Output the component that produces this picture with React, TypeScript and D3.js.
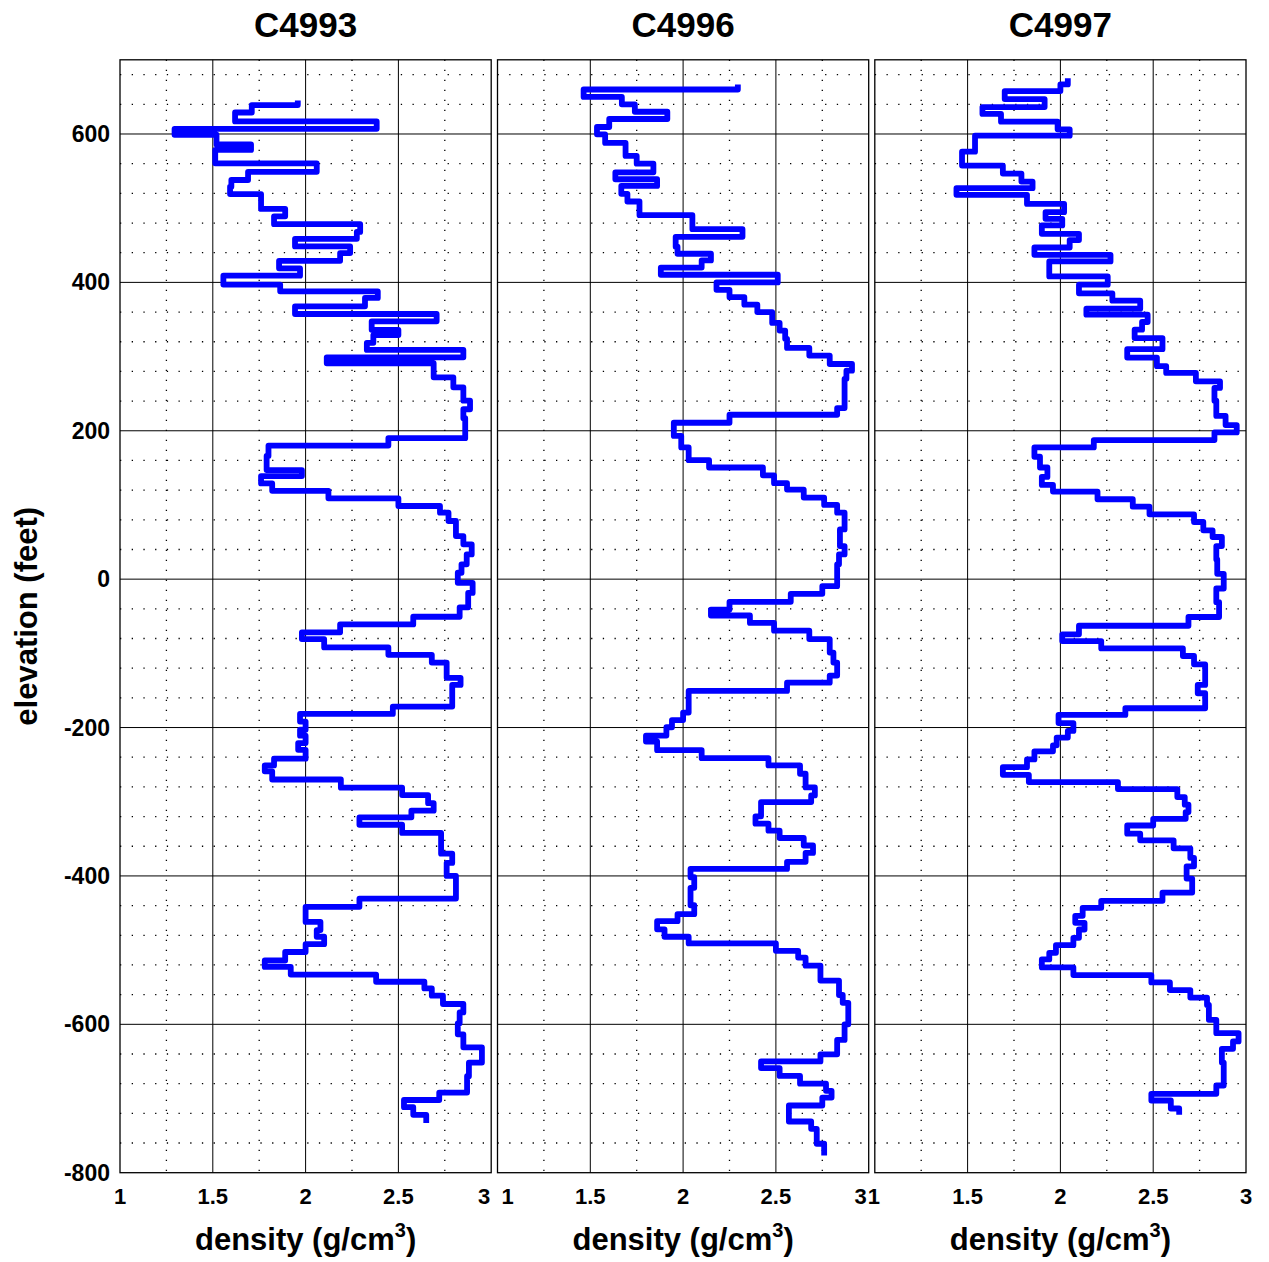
import React from "react";
import * as d3 from "d3";

const wells = ["C4993", "C4996", "C4997"];

// layer boundaries (elevation, feet): top, then the base of each layer
const c4993Elev = [645, 639, 629, 617, 607, 599, 586, 578.5, 560.5, 549, 538, 529, 519, 499, 489, 478.5, 468, 458.7, 448.4, 439.5, 429, 419, 409, 397, 388, 379, 367.7, 357.4, 347.5, 336, 329, 318.5, 309, 299, 291, 272, 258.5, 240.5, 229, 217, 190, 180, 166, 147, 139, 129, 119, 109, 98.6, 89.6, 78.4, 58, 47, 33.3, 20, 8.6, -5, -18.5, -38, -50.7, -61, -71.7, -80.7, -92, -102, -112.5, -133, -142.6, -171.7, -181.6, -192, -203, -211, -221, -230, -242, -251, -259, -270, -281, -291, -302, -312, -321, -331, -342, -370, -382.5, -400, -430.5, -441.7, -462, -473, -482, -492, -502.5, -514, -522.6, -533, -542.6, -551.6, -561.4, -572.6, -584, -598.7, -613.5, -631, -651.6, -670, -692, -702, -711.7, -722, -733];
// density (g/cm3) of each layer
const c4993Dens = [1.958, 1.71, 1.62, 2.383, 1.294, 1.52, 1.706, 1.513, 2.06, 1.69, 1.6, 1.593, 1.76, 1.89, 1.83, 2.294, 2.276, 1.943, 2.24, 2.186, 1.857, 1.97, 1.557, 1.863, 2.389, 2.32, 1.943, 2.706, 2.356, 2.5, 2.365, 2.33, 2.85, 2.114, 2.69, 2.796, 2.85, 2.886, 2.85, 2.86, 2.446, 1.8, 1.79, 1.98, 1.76, 1.82, 2.123, 2.5, 2.724, 2.77, 2.81, 2.85, 2.895, 2.868, 2.84, 2.82, 2.9, 2.876, 2.83, 2.58, 2.186, 1.98, 2.1, 2.446, 2.68, 2.76, 2.835, 2.79, 2.47, 1.97, 2.0, 1.97, 2.0, 1.96, 2.0, 1.83, 1.78, 1.82, 2.19, 2.52, 2.66, 2.69, 2.57, 2.29, 2.52, 2.73, 2.79, 2.76, 2.81, 2.29, 2.0, 2.08, 2.06, 2.1, 2.0, 1.89, 1.78, 1.92, 2.38, 2.64, 2.68, 2.74, 2.85, 2.83, 2.82, 2.85, 2.95, 2.88, 2.87, 2.72, 2.53, 2.58, 2.65];

const c4996Elev = [666.8, 660, 650, 640, 630, 620.2, 609.4, 599.6, 588, 570.4, 560, 548.4, 539, 530, 519.3, 509, 490.6, 471.7, 461.4, 448, 438.6, 429.6, 420, 410.3, 400, 390, 380, 370, 360, 345.3, 335, 323.9, 311.7, 301.4, 290, 281, 270, 230.6, 221.6, 210.8, 193, 177.5, 160.4, 150.5, 140, 129.3, 120.7, 110, 100, 89.6, 67, 44.6, 33.3, 20, -9.5, -19.8, -30.6, -41, -49, -59, -69.5, -80.7, -99, -112.5, -130, -139.5, -150.7, -179.8, -190, -199.6, -210.8, -218.8, -230.5, -241.3, -251, -262.3, -280.7, -291.5, -300.4, -319.7, -329.6, -339, -348.9, -359, -369, -381, -390.6, -401.8, -416, -439.5, -451.6, -461, -472, -482, -491, -501, -510, -521, -541, -560.5, -571, -600, -621, -640.4, -650, -659, -669.5, -680, -689.7, -698.7, -709.4, -731, -740.8, -761, -776.7];
const c4996Dens = [2.295, 1.464, 1.67, 1.74, 1.915, 1.602, 1.536, 1.58, 1.69, 1.75, 1.84, 1.635, 1.86, 1.667, 1.7, 1.765, 2.05, 2.32, 1.96, 1.97, 2.15, 2.1, 1.88, 2.51, 2.18, 2.25, 2.33, 2.4, 2.48, 2.52, 2.55, 2.56, 2.68, 2.79, 2.91, 2.88, 2.87, 2.83, 2.25, 1.95, 1.99, 2.03, 2.14, 2.43, 2.49, 2.56, 2.65, 2.76, 2.83, 2.87, 2.845, 2.87, 2.84, 2.83, 2.75, 2.58, 2.25, 2.15, 2.36, 2.49, 2.68, 2.79, 2.81, 2.83, 2.79, 2.56, 2.03, 2.0, 1.94, 1.91, 1.8, 1.86, 2.1, 2.46, 2.63, 2.66, 2.71, 2.69, 2.42, 2.39, 2.46, 2.52, 2.65, 2.7, 2.66, 2.56, 2.04, 2.06, 2.04, 2.06, 1.97, 1.86, 1.9, 2.03, 2.5, 2.62, 2.66, 2.74, 2.84, 2.86, 2.89, 2.87, 2.83, 2.74, 2.42, 2.52, 2.63, 2.77, 2.8, 2.75, 2.57, 2.69, 2.72, 2.76];

const c4997Elev = [675, 666.8, 657.8, 647, 636.3, 627, 616.6, 606.3, 597.8, 576.2, 557.4, 546.6, 535.9, 527, 518, 505.8, 494.6, 485.6, 476.7, 465.5, 457, 447, 437.2, 428.3, 408, 396.9, 385.2, 375.3, 364.6, 356.5, 346.6, 336.3, 325, 310, 298.6, 287, 278, 266.7, 257.7, 240.5, 220, 207.7, 197.7, 187.4, 177.5, 165, 150.5, 137.8, 127, 118, 107.7, 97.7, 87.4, 77, 65.8, 56.8, 44.6, 26.6, 7.2, -12.6, -31, -51, -62.8, -74.4, -83.4, -93.3, -103.6, -114.8, -142.6, -153.8, -174, -183, -194, -204.5, -213.5, -224, -232, -243, -253.4, -263.7, -273.5, -283, -293.7, -304, -314, -323, -332, -343, -352, -362.8, -375.8, -387, -403.6, -422.5, -433.6, -443, -453.8, -463.2, -472.2, -483.4, -493.3, -503.6, -512.6, -523.3, -533.6, -543.5, -553.8, -564, -574, -594, -612, -623, -633, -651.6, -682.5, -693.7, -702.7, -713.5, -722];
const c4997Dens = [2.04, 2.0, 1.7, 1.915, 1.58, 1.68, 1.985, 2.05, 1.54, 1.47, 1.69, 1.79, 1.85, 1.44, 1.82, 2.02, 1.92, 2.01, 1.9, 2.1, 2.05, 1.86, 2.27, 1.94, 2.255, 2.1, 2.28, 2.43, 2.14, 2.47, 2.44, 2.4, 2.55, 2.36, 2.52, 2.57, 2.73, 2.86, 2.83, 2.84, 2.89, 2.95, 2.83, 2.18, 1.86, 1.89, 1.93, 1.9, 1.96, 2.2, 2.39, 2.48, 2.72, 2.77, 2.82, 2.87, 2.84, 2.845, 2.88, 2.84, 2.855, 2.69, 2.1, 2.01, 2.22, 2.66, 2.72, 2.78, 2.74, 2.78, 2.35, 1.99, 2.07, 2.04, 1.98, 1.96, 1.86, 1.82, 1.69, 1.83, 2.31, 2.63, 2.67, 2.69, 2.675, 2.5, 2.36, 2.43, 2.61, 2.7, 2.72, 2.68, 2.71, 2.55, 2.22, 2.12, 2.08, 2.13, 2.1, 2.07, 1.976, 1.94, 1.9, 2.07, 2.49, 2.59, 2.7, 2.79, 2.8, 2.84, 2.96, 2.93, 2.87, 2.88, 2.84, 2.49, 2.595, 2.64];

const elevTicks = [600, 400, 200, 0, -200, -400, -600, -800];
const densTicks = [1, 1.5, 2, 2.5, 3];
const majorDens = [1.5, 2, 2.5];
const minorDens = [1.25, 1.75, 2.25, 2.75];

const W = 1269;
const H = 1262;
const TOP = 59.8;
const BOTTOM = 1172.7;
const PANEL_W = 371.2;
const PANEL_LEFT = [120, 497.5, 874.8];
const FONT = "'Liberation Sans', Arial, Helvetica, sans-serif";

const series = [
  { elev: c4993Elev, dens: c4993Dens },
  { elev: c4996Elev, dens: c4996Dens },
  { elev: c4997Elev, dens: c4997Dens },
];

// end ticks of adjacent panels are nudged apart so they do not collide
function tickAnchor(panel: number, d: number): { anchor: string; dx: number } {
  if (d === 3 && panel < 2) return { anchor: "end", dx: panel === 0 ? -1 : -2 };
  if (d === 1 && panel === 1) return { anchor: "start", dx: 4 };
  if (d === 1 && panel === 2) return { anchor: "start", dx: -7 };
  return { anchor: "middle", dx: 0 };
}

export default function App() {
  const y = d3.scaleLinear().domain([700, -800]).range([TOP, BOTTOM]);
  const majorElev = d3.range(-600, 601, 200);
  const minorElev = d3.range(-760, 700, 40).filter((e) => e % 200 !== 0);

  return (
    <svg
      width={W}
      height={H}
      style={{ position: "absolute", left: 0, top: 0, background: "#fff" }}
      fontFamily={FONT}
    >
      <rect x={0} y={0} width={W} height={H} fill="#fff" />
      {series.map((s, i) => {
        const left = PANEL_LEFT[i];
        const x = d3.scaleLinear().domain([1, 3]).range([left, left + PANEL_W]);
        const pts: [number, number][] = s.dens.map((d, k) => [d, s.elev[k]]);
        pts.push([s.dens[s.dens.length - 1], s.elev[s.elev.length - 1]]);
        const line = d3
          .line<[number, number]>()
          .x((p) => x(p[0]))
          .y((p) => y(p[1]))
          .curve(d3.curveStepBefore);
        const cx = left + PANEL_W / 2;
        return (
          <g key={wells[i]}>
            {minorElev.map((e) => (
              <line
                key={"mh" + e}
                x1={left}
                x2={left + PANEL_W}
                y1={y(e)}
                y2={y(e)}
                stroke="#000"
                strokeWidth={1.3}
                strokeDasharray="1.3 10.4"
              />
            ))}
            {minorDens.map((d) => (
              <line
                key={"mv" + d}
                x1={x(d)}
                x2={x(d)}
                y1={TOP}
                y2={BOTTOM}
                stroke="#000"
                strokeWidth={1.3}
                strokeDasharray="1.3 8.7"
              />
            ))}
            {majorElev.map((e) => (
              <line
                key={"h" + e}
                x1={left}
                x2={left + PANEL_W}
                y1={y(e)}
                y2={y(e)}
                stroke="#000"
                strokeWidth={1}
              />
            ))}
            {majorDens.map((d) => (
              <line
                key={"v" + d}
                x1={x(d)}
                x2={x(d)}
                y1={TOP}
                y2={BOTTOM}
                stroke="#000"
                strokeWidth={1}
              />
            ))}
            <rect
              x={left}
              y={TOP}
              width={PANEL_W}
              height={BOTTOM - TOP}
              fill="none"
              stroke="#000"
              strokeWidth={1.3}
            />
            <path
              d={line(pts) || ""}
              fill="none"
              stroke="#0000ff"
              strokeWidth={5.8}
              strokeLinejoin="round"
              strokeLinecap="butt"
            />
            <text
              x={cx}
              y={37}
              textAnchor="middle"
              fontSize={35}
              fontWeight="bold"
            >
              {wells[i]}
            </text>
            {densTicks.map((d) => {
              const a = tickAnchor(i, d);
              return (
                <text
                  key={"xt" + d}
                  x={x(d) + a.dx}
                  y={1204}
                  textAnchor={a.anchor}
                  fontSize={22}
                  fontWeight="bold"
                >
                  {String(d)}
                </text>
              );
            })}
            <text
              x={cx}
              y={1250}
              textAnchor="middle"
              fontSize={31}
              fontWeight="bold"
            >
              density (g/cm
              <tspan fontSize={20} dy={-13}>3</tspan>
              <tspan dy={13}>)</tspan>
            </text>
          </g>
        );
      })}
      {elevTicks.map((e) => (
        <text
          key={"yt" + e}
          x={110}
          y={y(e) + 8}
          textAnchor="end"
          fontSize={23}
          fontWeight="bold"
        >
          {String(e)}
        </text>
      ))}
      <text
        transform={`translate(37, ${(TOP + BOTTOM) / 2}) rotate(-90)`}
        textAnchor="middle"
        fontSize={31}
        fontWeight="bold"
      >
        elevation (feet)
      </text>
    </svg>
  );
}
